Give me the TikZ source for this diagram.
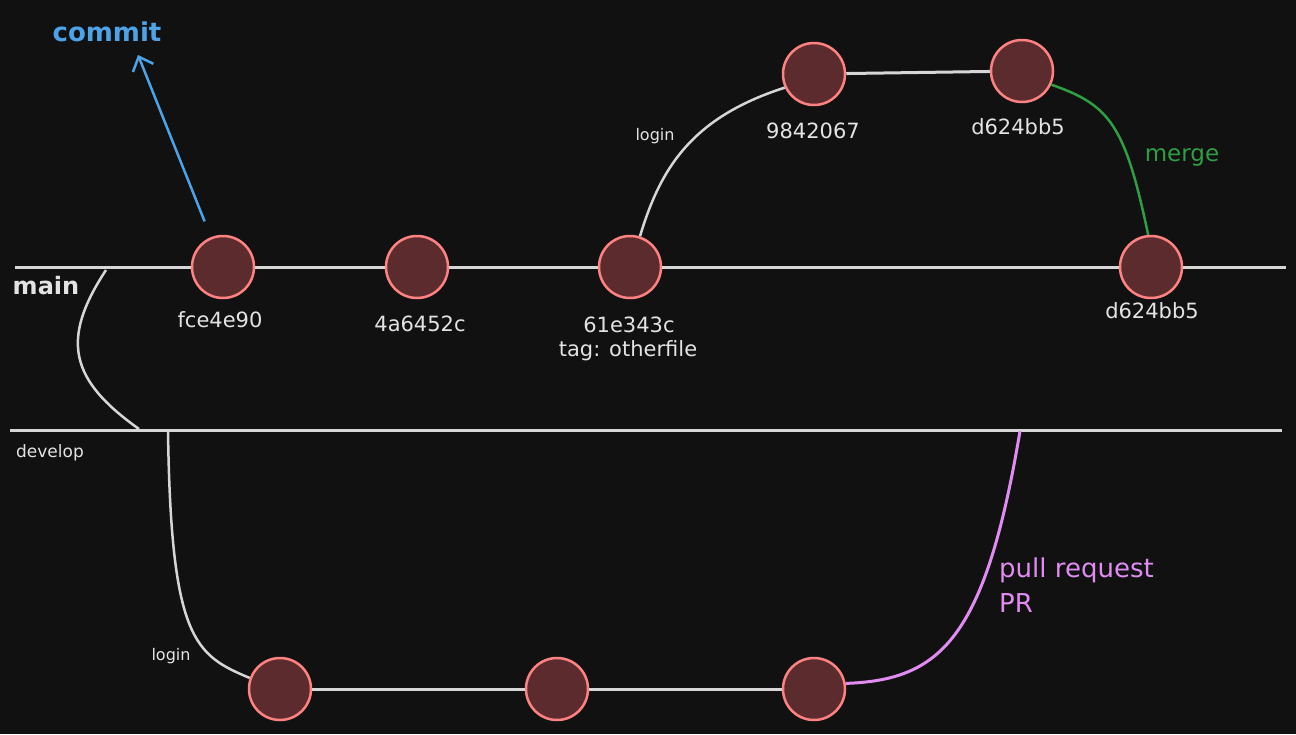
\documentclass[tikz,border=0pt]{standalone}
\usepackage{fontspec}
\setmainfont{DejaVu Sans}
\usetikzlibrary{arrows.meta}
\definecolor{bg}{HTML}{111111}
\definecolor{edge}{HTML}{D6D6D6}
\definecolor{cfill}{HTML}{5C2B2E}
\definecolor{cline}{HTML}{FF8282}
\definecolor{txt}{HTML}{E3E3E3}
\definecolor{blueA}{HTML}{4DA3E8}
\definecolor{greenA}{HTML}{2F9E44}
\definecolor{pinkA}{HTML}{E08CF2}
\begin{document}
\begin{tikzpicture}[x=1pt,y=-1pt,
  commitnode/.style={circle, draw=cline, fill=cfill, line width=2.5pt, minimum size=62pt, inner sep=0pt},
  branch/.style={draw=edge, line width=3pt},
  thinbranch/.style={draw=edge, line width=2.5pt},
  lbl/.style={text=txt, inner sep=0pt, font=\fontsize{21}{25}\selectfont},
  smalllbl/.style={text=txt, inner sep=0pt, font=\fontsize{16}{19}\selectfont}]
\fill[bg] (0,0) rectangle (1296,734);
\useasboundingbox (0,0) rectangle (1296,734);

% coordinates
\coordinate (mainL) at (15,267);
\coordinate (mainR) at (1286,267);
\coordinate (devL) at (10,430);
\coordinate (devR) at (1282,430);
\coordinate (forkA) at (106,270);
\coordinate (forkB) at (139,429);
\coordinate (devFork) at (168,431);
\coordinate (prEnd) at (1020,431);
\coordinate (ctip) at (138,55);

% commits
\node[commitnode] (c1) at (223,267) {};
\node[commitnode] (c2) at (417,267) {};
\node[commitnode] (c3) at (630,267) {};
\node[commitnode] (c4) at (1151,267) {};
\node[commitnode] (t1) at (814,74) {};
\node[commitnode] (t2) at (1022,71) {};
\node[commitnode] (b1) at (280,689) {};
\node[commitnode] (b2) at (557,689) {};
\node[commitnode] (b3) at (814,689) {};

% branch lines
\draw[branch] (mainL) -- (c1) -- (c2) -- (c3) -- (c4) -- (mainR);
\draw[branch] (devL) -- (devR);
\draw[thinbranch] (forkA) .. controls (60,340) and (70,380) .. (forkB);
\draw[branch] (t1) -- (t2);
\draw[branch] (b1) -- (b2) -- (b3);
\draw[thinbranch] (c3.72) .. controls (660,170) and (690,118) .. (t1.205);
\draw[thinbranch] (devFork) .. controls (171,640) and (195,655) .. (b1.160);
\draw[draw=greenA, line width=2.5pt] (t2.-25) .. controls (1110,105) and (1125,125) .. (c4.95);
\draw[draw=pinkA, line width=3pt] (b3.10) .. controls (940,680) and (985,640) .. (prEnd);
\draw[draw=blueA, line width=2.5pt, shorten <=17pt, -{Straight Barb[length=12pt,width=22pt,line width=2.5pt]}] (c1.112) -- (ctip);

% labels
\node[text=blueA, inner sep=0pt, font=\bfseries\fontsize{26}{30}\selectfont] (lcommit) at (107,32) {commit};
\node[text=txt, inner sep=0pt, font=\bfseries\fontsize{24}{28}\selectfont] (lmain) at (46,286) {main};
\node[smalllbl, font=\fontsize{17}{20}\selectfont] (ldev) at (50,453) {develop};
\node[lbl] (l1) at (220,320) {fce4e90};
\node[lbl] (l2) at (420,324) {4a6452c};
\node[lbl] (l3) at (629,325) {61e343c};
\node[lbl] (l3b) at (628,351) {tag: otherfile};
\node[lbl] (l4) at (1152,311) {d624bb5};
\node[lbl] (lt1) at (813,131) {9842067};
\node[lbl] (lt2) at (1018,127) {d624bb5};
\node[smalllbl] (llogin1) at (655,136) {login};
\node[smalllbl] (llogin2) at (171,656) {login};
\node[text=greenA, inner sep=0pt, font=\fontsize{23}{27}\selectfont] (lmerge) at (1182,157) {merge};
\node[text=pinkA, inner sep=0pt, anchor=west, font=\fontsize{26}{30}\selectfont] (lpr) at (999,570) {pull request};
\node[text=pinkA, inner sep=0pt, anchor=west, font=\fontsize{26}{30}\selectfont] (lpr2) at (999,603) {PR};
\end{tikzpicture}
\end{document}
